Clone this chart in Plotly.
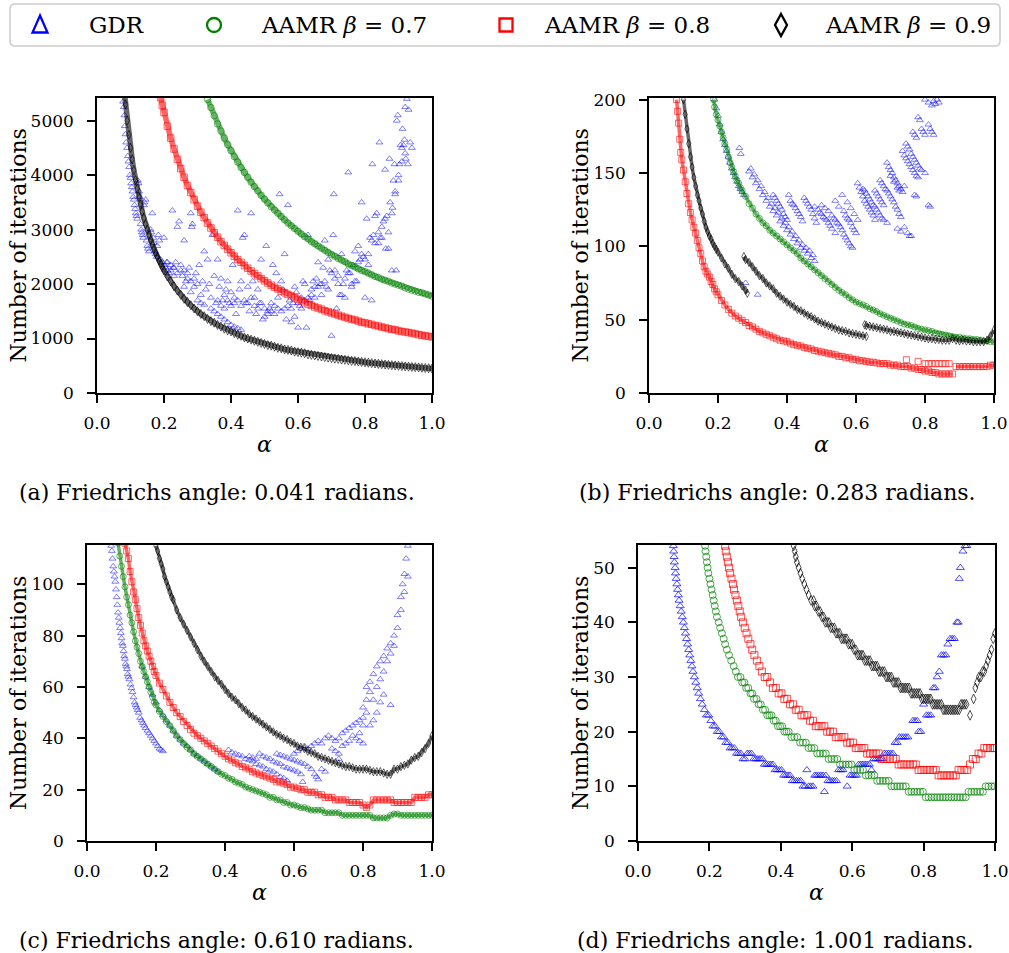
import plotly.graph_objects as go

W, H = 1009, 953
FONT = "DejaVu Serif"

# ---------------------------------------------------------------- alpha grid
GRID = [0.00, 0.01, 0.02, 0.03, 0.04, 0.05, 0.06, 0.07, 0.08, 0.09,
        0.10, 0.11, 0.12, 0.13, 0.14, 0.15, 0.16, 0.17, 0.18, 0.19,
        0.20, 0.21, 0.22, 0.23, 0.24, 0.25, 0.26, 0.27, 0.28, 0.29,
        0.30, 0.31, 0.32, 0.33, 0.34, 0.35, 0.36, 0.37, 0.38, 0.39,
        0.40, 0.41, 0.42, 0.43, 0.44, 0.45, 0.46, 0.47, 0.48, 0.49,
        0.50, 0.51, 0.52, 0.53, 0.54, 0.55, 0.56, 0.57, 0.58, 0.59,
        0.60, 0.61, 0.62, 0.63, 0.64, 0.65, 0.66, 0.67, 0.68, 0.69,
        0.70, 0.71, 0.72, 0.73, 0.74, 0.75, 0.76, 0.77, 0.78, 0.79,
        0.80, 0.81, 0.82, 0.83, 0.84, 0.85, 0.86, 0.87, 0.88, 0.89,
        0.90, 0.91, 0.92, 0.93, 0.94, 0.95, 0.96, 0.97, 0.98, 0.99, 1.00]

X_TICKS = [0.0, 0.2, 0.4, 0.6, 0.8, 1.0]
X_TICK_TEXT = ["0.0", "0.2", "0.4", "0.6", "0.8", "1.0"]

LEGEND_NAMES = ["GDR", "AAMR <i>β</i> = 0.7", "AAMR <i>β</i> = 0.8", "AAMR <i>β</i> = 0.9"]
CAPTIONS = ["(a) Friedrichs angle: 0.041 radians.",
            "(b) Friedrichs angle: 0.283 radians.",
            "(c) Friedrichs angle: 0.610 radians.",
            "(d) Friedrichs angle: 1.001 radians."]

# ================================================================ panel (a)
A_B09_ALPHA = [0.080, 0.085, 0.090, 0.095, 0.100, 0.105, 0.110, 0.115, 0.120, 0.125,
               0.130, 0.135, 0.140, 0.145, 0.150, 0.155, 0.160, 0.165, 0.170, 0.175,
               0.180, 0.185, 0.190, 0.195, 0.200] + GRID[21:]
A_B09_ITERS = [5600, 5300, 5000, 4740, 4500, 4290, 4090, 3910, 3750, 3600,
               3460, 3330, 3210, 3100, 3000, 2900, 2810, 2730, 2650, 2570,
               2500, 2430, 2370, 2310, 2250,
               2140, 2050, 1960, 1880, 1800, 1730, 1670, 1610, 1550, 1500,
               1450, 1410, 1360, 1320, 1290, 1250, 1220, 1180, 1150, 1130,
               1100, 1070, 1050, 1020, 1000, 980, 960, 940, 920, 900,
               880, 870, 850, 830, 820, 800, 790, 780, 760, 750,
               740, 730, 710, 700, 690, 680, 670, 660, 650, 640,
               630, 625, 615, 610, 600, 590, 585, 577, 570, 563,
               556, 549, 542, 536, 529, 523, 517, 511, 506, 500,
               495, 489, 484, 479, 474, 469, 464, 459, 455, 450]
A_B08_ALPHA = [0.190, 0.195, 0.200] + GRID[21:]
A_B08_ITERS = [5420, 5280, 5150,
               4900, 4680, 4480, 4290, 4120, 3960, 3810, 3680, 3550, 3430,
               3320, 3220, 3120, 3030, 2940, 2860, 2780, 2710, 2640, 2575,
               2510, 2450, 2400, 2340, 2290, 2240, 2190, 2150, 2100, 2060,
               2020, 1980, 1940, 1910, 1870, 1840, 1810, 1780, 1750, 1720,
               1690, 1660, 1630, 1610, 1580, 1560, 1540, 1510, 1490, 1470,
               1450, 1430, 1410, 1390, 1370, 1355, 1340, 1320, 1300, 1290,
               1270, 1260, 1240, 1230, 1210, 1200, 1180, 1170, 1160, 1140,
               1130, 1120, 1110, 1100, 1085, 1070, 1060, 1050, 1040, 1030]
A_B07_ALPHA = GRID[33:]
A_B07_ITERS = [5390, 5240, 5090, 4940, 4810, 4680, 4560, 4450,
               4340, 4240, 4140, 4050, 3960, 3870, 3790, 3710, 3630, 3560,
               3490, 3420, 3360, 3300, 3240, 3180, 3120, 3070, 3020, 2970,
               2920, 2870, 2830, 2780, 2740, 2700, 2660, 2620, 2580, 2540,
               2510, 2470, 2440, 2410, 2370, 2340, 2310, 2280, 2250, 2230,
               2200, 2170, 2140, 2120, 2090, 2070, 2050, 2020, 2000, 1980,
               1960, 1930, 1910, 1890, 1870, 1850, 1840, 1820, 1800, 1780]
A_GDR = [(0.078, 5350), (0.080, 5250), (0.082, 5100), (0.083, 4900), (0.085, 4750), (0.087, 4600),
         (0.090, 4500), (0.092, 4350), (0.094, 4250), (0.096, 4150), (0.098, 4000), (0.100, 3950),
         (0.102, 3850), (0.104, 3780), (0.106, 3700), (0.108, 3600), (0.110, 3550), (0.112, 3450),
         (0.114, 3380), (0.116, 3300), (0.118, 3250), (0.120, 3200), (0.122, 3900), (0.124, 3850),
         (0.126, 3700), (0.128, 3600), (0.130, 3100), (0.132, 3000), (0.134, 2950), (0.136, 2900),
         (0.138, 2850), (0.140, 3450), (0.142, 3500), (0.145, 3550), (0.148, 2800), (0.150, 2700),
         (0.152, 2650), (0.155, 2600), (0.160, 3000), (0.162, 2950), (0.165, 3300), (0.168, 2850),
         (0.170, 2750), (0.172, 2600), (0.175, 2550), (0.178, 2500), (0.180, 2700), (0.183, 2900),
         (0.186, 2800), (0.190, 2450), (0.195, 2400), (0.200, 2850), (0.202, 2350), (0.205, 2300),
         (0.208, 2400), (0.210, 2250), (0.215, 2200), (0.220, 2350), (0.225, 3350), (0.228, 2300),
         (0.230, 2150), (0.235, 2400), (0.240, 3050), (0.245, 3150), (0.250, 2250), (0.255, 2150),
         (0.260, 2800), (0.265, 2050), (0.270, 2100), (0.275, 2300), (0.280, 3300), (0.283, 3050),
         (0.285, 3100), (0.290, 1950), (0.295, 2200), (0.300, 2000), (0.305, 2350), (0.310, 1800),
         (0.315, 2050), (0.320, 2600), (0.325, 1900), (0.330, 2450), (0.335, 2000), (0.340, 1750),
         (0.345, 2900), (0.350, 2150), (0.355, 1650), (0.360, 2450), (0.365, 1950), (0.370, 2100),
         (0.375, 1700), (0.380, 1550), (0.385, 1900), (0.390, 2050), (0.395, 1650), (0.400, 1600),
         (0.405, 2350), (0.410, 1750), (0.415, 1450), (0.420, 3350), (0.425, 1900), (0.430, 2050),
         (0.435, 2850), (0.440, 2900), (0.445, 1650), (0.450, 1950), (0.455, 1500), (0.460, 3300),
         (0.465, 2050), (0.470, 1750), (0.475, 1450), (0.480, 1900), (0.485, 1650), (0.490, 2450),
         (0.495, 1350), (0.500, 1400), (0.505, 2700), (0.510, 1500), (0.515, 1550), (0.520, 1650),
         (0.525, 2350), (0.530, 1600), (0.535, 2200), (0.540, 1750), (0.545, 3650), (0.550, 2050),
         (0.555, 1900), (0.560, 2550), (0.565, 1350), (0.570, 3450), (0.575, 1700), (0.580, 1300),
         (0.585, 1650), (0.590, 1950), (0.595, 1850), (0.600, 1200), (0.605, 1600), (0.610, 1750),
         (0.615, 2050), (0.620, 2000), (0.625, 1200), (0.630, 2900), (0.635, 1700), (0.640, 1800),
         (0.645, 2050), (0.650, 1950), (0.655, 2100), (0.660, 2400), (0.665, 2000), (0.670, 1800),
         (0.675, 2300), (0.680, 2800), (0.685, 1950), (0.690, 2450), (0.695, 2250), (0.700, 1050),
         (0.705, 2900), (0.707, 3650), (0.710, 2250), (0.715, 1550), (0.720, 2150), (0.725, 1800),
         (0.730, 2550), (0.735, 2000), (0.740, 1750), (0.745, 2250), (0.750, 4050), (0.755, 2200),
         (0.760, 2000), (0.765, 2350), (0.770, 2600), (0.775, 2050), (0.780, 2700), (0.785, 2450),
         (0.790, 3500), (0.795, 2500), (0.800, 1750), (0.805, 3200), (0.810, 2550), (0.815, 2850),
         (0.820, 1700), (0.822, 4200), (0.825, 2900), (0.830, 3250), (0.835, 3300), (0.840, 2750),
         (0.843, 4600), (0.845, 2850), (0.850, 3050), (0.855, 3150), (0.860, 4100), (0.862, 2650),
         (0.865, 3250), (0.870, 2650), (0.873, 4300), (0.875, 3500), (0.880, 2250), (0.882, 3400),
         (0.885, 3900), (0.888, 4200), (0.890, 3700), (0.893, 2250), (0.895, 5000), (0.898, 5100),
         (0.900, 3900), (0.903, 4200), (0.906, 4550), (0.910, 4250), (0.912, 4850), (0.915, 4550),
         (0.918, 4650), (0.920, 5250), (0.922, 4300), (0.925, 5400), (0.928, 4200), (0.930, 5200),
         (0.935, 4600), (0.940, 4500),
         (0.36, 1700), (0.37, 1600), (0.38, 1800), (0.39, 1700), (0.40, 1850), (0.41, 1650),
         (0.42, 1700), (0.43, 1600), (0.44, 1700), (0.45, 1650), (0.46, 1750), (0.47, 1600),
         (0.48, 1550), (0.49, 1650), (0.50, 1550), (0.51, 1450), (0.52, 1500), (0.53, 1450),
         (0.54, 1550), (0.55, 1500), (0.56, 1550), (0.57, 1600), (0.58, 1550), (0.59, 1400),
         (0.60, 1650), (0.61, 1550), (0.62, 1700), (0.63, 1750), (0.64, 1900), (0.65, 1750),
         (0.66, 1950), (0.67, 2000), (0.68, 2050), (0.69, 1900), (0.70, 2200), (0.71, 2100),
         (0.72, 2000), (0.73, 1800), (0.74, 2100), (0.75, 2200), (0.76, 1950), (0.77, 2050),
         (0.78, 2400), (0.79, 2550), (0.80, 2450), (0.81, 2350), (0.82, 2800), (0.83, 2750),
         (0.84, 2950), (0.85, 2850), (0.86, 3200), (0.87, 2950), (0.88, 3300), (0.89, 3650),
         (0.90, 4000), (0.91, 4500), (0.92, 4400),
         (0.26, 1950), (0.28, 1850), (0.30, 1700), (0.31, 1650), (0.32, 1620), (0.34, 1550),
         (0.35, 1500), (0.36, 1450), (0.37, 1400), (0.38, 1350), (0.39, 1300), (0.40, 1250),
         (0.41, 1220), (0.42, 1190), (0.43, 1160),
         (0.21, 2400), (0.22, 2250), (0.23, 2300), (0.24, 2200), (0.25, 2350), (0.26, 2250),
         (0.27, 2200), (0.28, 2050), (0.29, 2100)]

# ================================================================ panel (b)
B_B08_ALPHA = [0.080, 0.083, 0.086, 0.089, 0.092, 0.095, 0.100, 0.105, 0.110, 0.115,
               0.120, 0.125, 0.130, 0.135, 0.140, 0.145, 0.150, 0.155, 0.160, 0.165,
               0.170, 0.175, 0.180, 0.185, 0.190, 0.195, 0.200] + GRID[21:89] + [0.885] + GRID[89:]
B_B08_ITERS = [200, 192, 184, 173, 164, 159, 152, 144, 136, 129,
               123, 118, 113, 109, 104, 99, 95, 90, 86, 83,
               81, 79, 76, 74, 71, 69, 67,
               63, 60, 57, 54.5, 52.5, 51, 49.5, 48, 46, 45,
               43.5, 42, 41, 40, 39, 38, 37, 36, 35.5, 35,
               34, 33, 32.5, 32, 31, 30.5, 30, 29, 28.5, 28,
               27.5, 27, 26.5, 26, 25, 25, 24, 24, 23, 23,
               22, 22, 21.5, 21, 21, 20.5, 20, 20, 20, 19,
               19, 19, 18, 18, 18, 17, 17, 16, 16, 15,
               15, 14, 14, 13, 13, 13, 13, 13,
               None,
               18, 18, 18, 18, 18, 18, 18, 18, 18, 18, 19, 19]
B_B08_EXTRA = [(0.80, 20), (0.81, 20), (0.82, 20), (0.83, 20), (0.84, 20), (0.85, 20),
               (0.86, 20), (0.87, 20), (0.746, 22.7), (0.78, 21.6)]
B_B09_ALPHA = ([0.100, 0.105, 0.110, 0.115, 0.120, 0.125, 0.130, 0.135, 0.140, 0.145,
                0.150, 0.155, 0.160, 0.165, 0.170, 0.175, 0.180, 0.185, 0.190, 0.195, 0.200]
               + GRID[21:29] + [0.285, 0.2875, 0.275, 0.28] + GRID[29:64] + [0.63, 0.625] + GRID[63:])
B_B09_ITERS = [200, 190, 180, 170, 161, 154, 147, 141, 135, 131,
               126, 122, 117, 113, 110, 107, 105, 102, 100, 98, 96,
               92, 88, 85, 81, 78, 76, 73, 70, 68,
               None,
               93, 91,
               89, 86, 83, 80, 78, 75, 73, 71, 68, 66,
               64, 62, 60.5, 59, 57, 56, 54.5, 53, 52, 50.5,
               49, 48, 47, 46, 45, 44, 43, 42.5, 42, 41,
               40.5, 40, 39.5, 39, 38.5,
               None,
               46.5,
               46, 45.5, 45, 44.5, 44, 43.5, 43,
               42, 42, 41.5, 41, 40.5, 40, 39.5, 39, 38.5, 38,
               37.5, 37, 37, 36.5, 36.5, 36, 36, 36, 37, 36,
               35.5, 36, 35.5, 35.5, 35, 35, 35, 35, 36, 39, 43]
B_B07_ALPHA = [0.187, 0.190, 0.195, 0.200, 0.205, 0.210, 0.215, 0.220, 0.225, 0.230,
               0.235, 0.240, 0.245, 0.250, 0.255, 0.260, 0.265, 0.270] + GRID[28:]
B_B07_ITERS = [200, 195, 190, 186, 182, 178, 174, 170, 166, 161,
               157, 154, 151, 148, 145, 143, 140, 138,
               134, 129, 126,
               122, 119, 116, 114, 111, 109, 107, 105, 103, 101,
               99, 97, 95, 92, 90, 88, 86, 84, 82, 80,
               78, 76, 74, 72, 70, 68.5, 67, 65, 63.5, 62,
               61, 60, 59, 57.5, 56.5, 55.5, 54, 53, 52, 51,
               50, 49, 48, 47, 46.5, 46, 45, 44, 43.5, 43,
               42.5, 42, 41, 40.5, 40, 39.5, 39, 38.5, 38, 38,
               37.5, 37, 37, 36.5, 36.5, 36, 35.5, 35.5, 35, 35]
B_GDR = [(0.19, 200), (0.195, 194), (0.20, 189), (0.205, 183), (0.21, 178), (0.215, 173),
         (0.22, 169), (0.225, 165), (0.23, 161), (0.235, 157), (0.24, 153), (0.245, 150),
         (0.25, 147), (0.255, 144), (0.26, 141), (0.265, 139), (0.27, 137), (0.275, 135),
         (0.262, 167), (0.266, 163), (0.28, 75), (0.315, 67),
         (0.29, 151), (0.30, 147), (0.31, 143), (0.32, 139), (0.33, 135), (0.34, 131),
         (0.35, 127), (0.36, 124), (0.37, 121), (0.38, 117), (0.39, 114), (0.40, 111),
         (0.41, 108), (0.42, 105), (0.43, 102), (0.44, 99), (0.45, 97), (0.46, 95),
         (0.47, 92), (0.48, 90),
         (0.295, 153), (0.305, 149), (0.315, 145), (0.325, 141), (0.335, 137), (0.345, 133),
         (0.355, 129), (0.365, 126), (0.375, 123), (0.385, 119), (0.395, 116), (0.405, 113),
         (0.415, 110), (0.425, 107), (0.435, 104), (0.445, 101), (0.455, 99), (0.465, 97),
         (0.475, 94),
         (0.36, 135), (0.37, 131), (0.38, 127), (0.39, 122), (0.40, 118), (0.365, 133),
         (0.375, 129), (0.385, 125), (0.395, 120),
         (0.405, 135), (0.41, 131), (0.42, 128), (0.43, 124), (0.44, 120), (0.445, 117),
         (0.415, 129), (0.425, 126), (0.435, 122),
         (0.45, 133), (0.46, 129), (0.47, 125), (0.48, 119), (0.485, 116), (0.455, 131),
         (0.465, 127), (0.475, 122),
         (0.48, 127), (0.49, 125), (0.50, 122), (0.51, 119), (0.52, 116), (0.53, 112),
         (0.54, 109), (0.495, 123), (0.505, 120), (0.515, 118), (0.525, 114),
         (0.50, 128), (0.51, 126), (0.52, 124), (0.53, 121), (0.54, 118), (0.55, 115),
         (0.56, 111), (0.57, 106), (0.58, 102), (0.59, 99), (0.535, 119), (0.545, 116),
         (0.555, 113), (0.565, 108), (0.575, 104), (0.585, 100),
         (0.54, 131), (0.55, 127), (0.56, 135), (0.565, 124), (0.57, 121), (0.58, 118),
         (0.59, 113), (0.60, 109), (0.575, 119), (0.585, 116), (0.595, 111),
         (0.575, 130), (0.585, 126), (0.595, 122), (0.605, 118),
         (0.605, 143), (0.61, 140), (0.62, 134), (0.63, 129), (0.64, 125), (0.65, 121),
         (0.655, 118), (0.615, 137), (0.625, 131), (0.635, 127), (0.645, 123),
         (0.62, 139), (0.63, 136), (0.64, 132), (0.65, 128), (0.66, 125), (0.67, 121),
         (0.68, 118), (0.69, 116), (0.625, 138), (0.635, 134), (0.645, 130), (0.655, 127),
         (0.665, 123), (0.675, 119),
         (0.655, 138), (0.66, 136), (0.67, 132), (0.68, 128), (0.665, 134), (0.675, 130),
         (0.67, 145), (0.68, 141), (0.69, 138), (0.70, 134), (0.71, 130), (0.72, 125),
         (0.73, 120), (0.74, 113), (0.75, 109), (0.755, 107), (0.675, 143), (0.685, 139),
         (0.695, 136), (0.705, 132), (0.715, 127), (0.725, 122),
         (0.69, 157), (0.70, 152), (0.71, 147), (0.72, 143), (0.73, 139), (0.735, 137),
         (0.695, 154), (0.705, 150), (0.715, 145), (0.725, 141),
         (0.70, 148), (0.71, 144), (0.72, 140), (0.725, 138),
         (0.735, 165), (0.74, 162), (0.75, 158), (0.76, 154), (0.77, 150), (0.78, 147),
         (0.745, 160), (0.755, 156), (0.765, 152), (0.775, 148),
         (0.745, 170), (0.75, 168), (0.76, 163), (0.77, 159), (0.78, 155), (0.79, 152),
         (0.80, 150), (0.755, 166), (0.765, 161), (0.775, 157), (0.785, 153),
         (0.765, 178), (0.77, 176), (0.78, 188), (0.785, 186), (0.79, 180), (0.80, 176),
         (0.81, 183), (0.815, 180), (0.82, 178), (0.825, 176), (0.775, 174), (0.795, 178),
         (0.80, 200), (0.81, 198), (0.82, 196), (0.825, 199), (0.83, 197), (0.835, 200),
         (0.84, 198),
         (0.77, 135), (0.775, 134), (0.81, 128), (0.815, 127), (0.74, 141), (0.72, 112),
         (0.73, 110), (0.76, 107)]

# ================================================================ panel (c)
C_B09_ALPHA = [0.200, 0.205, 0.210, 0.215, 0.220, 0.225, 0.230, 0.235, 0.240, 0.245, 0.250] + GRID[26:]
C_B09_ITERS = [115, 113, 110, 108, 106, 103, 101, 99, 97, 95, 94,
               90, 87, 84.5, 82, 79.5,
               77, 74.5, 72, 70, 68, 66, 64, 62.5, 61, 59,
               57.5, 56, 55, 53.5, 52, 51, 49.5, 48.5, 47.5, 46.5,
               45.5, 44.5, 43.5, 42.5, 41.5, 41, 40, 39.5, 38.5, 38,
               37, 36.5, 36, 35, 34.5, 34, 33, 32.5, 32, 31.5,
               31, 30.5, 30, 29.5, 29, 29, 28.5, 28, 28, 28,
               28, 27.5, 27, 27, 27, 26.5, 26, 26, 28, 28,
               29, 29.5, 30, 31.5, 32.5, 33, 34.5, 36, 38, 41]
C_B08_ALPHA = [0.110, 0.115, 0.120, 0.125, 0.130, 0.135, 0.140, 0.145, 0.150, 0.155,
               0.160, 0.165, 0.170, 0.175, 0.180, 0.185, 0.190, 0.195, 0.200] + GRID[21:]
C_B08_ITERS = [116, 113, 110, 105, 101, 97, 94, 90.5, 87, 84,
               81, 78, 76, 74, 72, 70, 68, 66, 64.5,
               61.5, 59, 56.5, 54, 52, 50, 48.5, 46.5, 45, 43.5,
               42, 41, 40, 39, 38, 37, 36, 35, 34, 33,
               32, 31.5, 30.5, 30, 29, 28.5, 28, 27, 26.5, 26,
               25.5, 25, 24.5, 24, 23, 23, 22.5, 22, 21, 21,
               20.5, 20, 20, 19, 19, 19, 18, 18, 17, 17,
               17, 16, 16, 16, 16, 15, 15, 15, 15, 14,
               13, 14, 16, 16, 16, 16, 16, 16, 15, 15,
               15, 15, 15, 15, 17, 17, 17, 17, 18, 18]
C_B07_ALPHA = [0.090, 0.095, 0.100, 0.105, 0.110, 0.115, 0.120, 0.125, 0.130, 0.135,
               0.140, 0.145, 0.150, 0.155, 0.160, 0.165, 0.170, 0.175, 0.180, 0.185,
               0.190, 0.195, 0.200] + GRID[21:]
C_B07_ITERS = [116, 111, 107, 103, 99, 95, 92, 88, 85, 81.5,
               78, 75.5, 73, 70, 68, 66, 64, 62, 60, 58,
               56, 54, 53,
               50.5, 48.5, 46.5, 45, 43, 41, 39.5, 38, 36.5, 35.5,
               34, 33, 32, 31, 30, 29, 28, 27, 26, 25.5,
               24.5, 24, 23, 22.5, 22, 21, 20.5, 20, 19.5, 19,
               18.5, 18, 17, 17, 16, 16, 15, 15, 14, 14,
               13.5, 13, 13, 12.5, 12, 12, 12, 12, 11, 11,
               11, 11, 11, 10, 10, 10, 10, 10, 10, 10,
               10, 10, 9, 9, 9, 9, 9, 10, 10.5, 10.5,
               10, 10, 10, 10, 10, 10, 10, 10, 10, 10]
C_GDR = [(0.070, 115), (0.072, 113), (0.074, 110), (0.076, 107), (0.078, 105), (0.080, 103),
         (0.082, 101), (0.084, 98), (0.086, 95), (0.088, 92), (0.090, 89), (0.092, 87),
         (0.094, 85), (0.096, 83), (0.098, 81), (0.100, 79), (0.102, 77), (0.104, 76),
         (0.106, 74), (0.108, 72), (0.110, 71), (0.112, 69), (0.114, 68), (0.116, 67),
         (0.118, 65), (0.120, 64), (0.123, 63), (0.126, 61), (0.129, 59.5), (0.132, 58),
         (0.135, 56), (0.138, 54), (0.141, 53), (0.144, 52), (0.147, 51), (0.150, 50),
         (0.154, 48), (0.158, 47), (0.162, 46), (0.166, 45), (0.170, 44), (0.175, 43),
         (0.180, 42), (0.185, 41), (0.190, 40), (0.195, 39), (0.200, 38), (0.205, 37),
         (0.210, 36), (0.215, 35.5), (0.220, 35),
         (0.16, 68), (0.17, 64), (0.18, 60), (0.19, 57), (0.20, 54), (0.21, 51), (0.22, 49),
         (0.23, 47), (0.24, 45), (0.25, 43), (0.26, 41), (0.27, 39.5), (0.28, 38), (0.29, 37),
         (0.30, 35.5), (0.31, 34), (0.32, 33), (0.33, 32), (0.34, 31), (0.35, 30), (0.36, 29),
         (0.37, 28), (0.38, 27),
         (0.41, 35.5), (0.42, 34.5), (0.43, 34), (0.44, 33.5), (0.45, 33), (0.46, 32),
         (0.47, 31.5), (0.48, 31), (0.49, 30), (0.50, 29.5), (0.51, 29), (0.52, 28),
         (0.53, 27.5), (0.54, 27), (0.55, 26), (0.56, 25), (0.57, 24.5), (0.58, 23.5),
         (0.47, 33), (0.48, 32.5), (0.49, 32), (0.50, 34), (0.51, 33), (0.52, 32.5),
         (0.53, 32), (0.54, 31), (0.55, 30.5), (0.56, 30), (0.57, 29), (0.58, 28.5),
         (0.59, 28), (0.60, 27.5), (0.61, 27), (0.62, 26), (0.625, 23),
         (0.55, 34), (0.56, 33.5), (0.57, 33), (0.58, 32.5), (0.59, 32), (0.60, 31.5),
         (0.61, 31), (0.62, 30.5), (0.63, 30), (0.64, 29), (0.65, 28), (0.66, 26),
         (0.665, 25), (0.67, 24), (0.68, 28), (0.69, 27),
         (0.60, 34), (0.61, 35), (0.62, 36), (0.63, 37), (0.64, 36), (0.65, 37), (0.66, 38),
         (0.67, 39), (0.68, 38), (0.69, 40), (0.70, 41), (0.71, 40), (0.72, 39), (0.73, 40),
         (0.74, 42), (0.75, 43), (0.76, 44), (0.77, 45), (0.78, 46), (0.79, 47), (0.80, 48),
         (0.71, 36), (0.72, 35), (0.73, 34), (0.74, 37), (0.75, 38), (0.76, 39), (0.77, 41),
         (0.78, 40), (0.79, 39), (0.80, 38), (0.73, 32),
         (0.80, 52), (0.81, 55), (0.81, 60), (0.82, 58), (0.82, 62), (0.83, 55), (0.83, 65),
         (0.84, 60), (0.84, 68), (0.85, 63), (0.85, 70), (0.86, 66), (0.86, 72), (0.87, 75),
         (0.87, 70), (0.88, 73), (0.88, 77), (0.88, 53), (0.89, 80), (0.89, 76), (0.90, 83),
         (0.90, 88), (0.91, 90), (0.91, 95), (0.915, 100), (0.92, 104), (0.92, 97),
         (0.925, 110), (0.93, 103), (0.93, 115), (0.84, 50), (0.83, 47), (0.82, 45),
         (0.81, 50), (0.80, 45), (0.79, 42), (0.86, 57), (0.85, 54)]

# ================================================================ panel (d)
D_GDR = [(0.099, 54), (0.100, 53), (0.101, 52), (0.102, 51), (0.104, 50), (0.105, 49),
         (0.107, 48), (0.109, 47), (0.111, 46), (0.113, 45), (0.115, 44), (0.118, 43),
         (0.121, 42), (0.124, 41), (0.127, 40), (0.130, 39), (0.133, 38), (0.136, 37),
         (0.139, 36), (0.142, 35), (0.145, 34), (0.148, 33), (0.151, 32), (0.154, 31),
         (0.158, 30), (0.162, 29), (0.166, 28), (0.170, 27), (0.175, 26), (0.180, 25),
         (0.186, 24), (0.192, 23), (0.198, 23), (0.204, 22), (0.210, 21), (0.216, 21),
         (0.222, 20), (0.228, 20), (0.234, 19), (0.240, 19), (0.246, 18), (0.252, 18),
         (0.258, 17), (0.264, 17), (0.270, 17), (0.276, 16), (0.282, 16), (0.288, 16),
         (0.294, 15), (0.300, 15), (0.306, 16), (0.312, 16), (0.318, 16), (0.324, 15),
         (0.330, 15), (0.336, 15), (0.342, 15), (0.348, 15), (0.354, 14), (0.360, 14),
         (0.366, 14), (0.372, 14), (0.378, 14), (0.384, 13), (0.390, 13), (0.396, 13),
         (0.402, 13), (0.408, 12), (0.414, 12), (0.420, 12), (0.426, 12), (0.432, 11),
         (0.438, 11), (0.444, 11), (0.450, 11), (0.456, 11), (0.462, 10), (0.468, 10),
         (0.473, 13), (0.478, 10), (0.484, 10), (0.490, 10), (0.495, 12), (0.500, 12),
         (0.506, 12), (0.512, 12), (0.518, 12), (0.522, 9), (0.526, 12), (0.532, 11),
         (0.538, 11), (0.544, 11), (0.550, 11), (0.556, 11), (0.562, 13), (0.568, 13),
         (0.574, 13), (0.586, 10), (0.594, 12), (0.600, 12), (0.606, 12), (0.612, 12),
         (0.618, 14), (0.624, 14), (0.630, 14), (0.636, 14), (0.642, 14), (0.648, 14),
         (0.654, 13), (0.660, 15), (0.666, 15), (0.672, 15), (0.678, 15), (0.684, 15),
         (0.690, 16), (0.696, 16), (0.702, 16), (0.708, 16), (0.714, 16), (0.720, 18),
         (0.726, 18), (0.732, 19), (0.738, 19), (0.744, 19), (0.750, 19), (0.756, 19),
         (0.770, 22), (0.776, 22), (0.782, 22), (0.786, 20), (0.792, 20), (0.800, 25),
         (0.808, 23), (0.814, 23), (0.820, 23), (0.827, 28), (0.832, 28), (0.838, 30),
         (0.844, 31), (0.850, 34), (0.856, 34), (0.862, 34), (0.868, 36), (0.874, 37),
         (0.880, 37), (0.886, 37), (0.893, 40), (0.897, 40), (0.900, 48), (0.903, 50),
         (0.910, 53), (0.916, 54), (0.921, 54)]
D_B07 = [(0.188, 54), (0.189, 53), (0.191, 52), (0.193, 51), (0.195, 50), (0.197, 49),
         (0.200, 48), (0.203, 47), (0.206, 46), (0.209, 45), (0.212, 44), (0.215, 43),
         (0.218, 42), (0.221, 41), (0.226, 40), (0.230, 39), (0.235, 38), (0.240, 37),
         (0.244, 36), (0.249, 35), (0.255, 34), (0.261, 33), (0.268, 32), (0.274, 31),
         (0.280, 30), (0.287, 30), (0.292, 29), (0.298, 29), (0.303, 28), (0.309, 28),
         (0.315, 27), (0.320, 27), (0.325, 26), (0.332, 26), (0.338, 25), (0.344, 25),
         (0.350, 24), (0.356, 24), (0.362, 23), (0.368, 23), (0.374, 23), (0.380, 22),
         (0.386, 22), (0.392, 21), (0.398, 21), (0.404, 21), (0.410, 20), (0.416, 20),
         (0.422, 20), (0.430, 19), (0.438, 19), (0.446, 19), (0.454, 18), (0.462, 18),
         (0.470, 18), (0.478, 17), (0.486, 17), (0.494, 17), (0.502, 16), (0.510, 16),
         (0.518, 16), (0.526, 16), (0.534, 15), (0.542, 15), (0.550, 15), (0.558, 15),
         (0.566, 14), (0.574, 14), (0.582, 14), (0.590, 14), (0.598, 14), (0.606, 13),
         (0.614, 13), (0.622, 13), (0.630, 13), (0.638, 12), (0.646, 12), (0.654, 12),
         (0.662, 12), (0.670, 11), (0.678, 11), (0.686, 11), (0.694, 11), (0.702, 11),
         (0.710, 10), (0.718, 10), (0.726, 10), (0.734, 10), (0.742, 10), (0.750, 10),
         (0.758, 9), (0.766, 9), (0.774, 9), (0.782, 9), (0.790, 9), (0.798, 9),
         (0.806, 8), (0.814, 8), (0.822, 8), (0.830, 8), (0.838, 8), (0.846, 8),
         (0.854, 8), (0.862, 8), (0.870, 8), (0.878, 8), (0.886, 8), (0.894, 8),
         (0.902, 8), (0.910, 8), (0.918, 8), (0.926, 9), (0.934, 9), (0.942, 9),
         (0.950, 9), (0.958, 9), (0.966, 9), (0.974, 10), (0.982, 10), (0.990, 10),
         (0.998, 10)]
D_B08 = [(0.244, 54), (0.246, 53), (0.249, 52), (0.252, 51), (0.255, 50), (0.258, 49),
         (0.262, 48), (0.266, 47), (0.269, 46), (0.273, 45), (0.277, 44), (0.281, 43),
         (0.285, 42), (0.289, 41), (0.294, 40), (0.299, 39), (0.304, 38), (0.309, 37),
         (0.315, 36), (0.320, 35), (0.326, 34), (0.333, 33), (0.340, 32), (0.347, 31),
         (0.355, 30), (0.362, 30), (0.370, 29), (0.378, 28), (0.386, 28), (0.394, 27),
         (0.402, 27), (0.410, 26), (0.418, 26), (0.426, 25), (0.434, 25), (0.442, 24),
         (0.450, 24), (0.458, 23), (0.466, 23), (0.474, 23), (0.482, 22), (0.490, 22),
         (0.498, 21), (0.506, 21), (0.514, 21), (0.522, 21), (0.530, 20), (0.538, 20),
         (0.546, 20), (0.554, 19), (0.562, 19), (0.570, 19), (0.578, 19), (0.586, 18),
         (0.594, 18), (0.602, 18), (0.610, 17), (0.618, 17), (0.626, 17), (0.634, 17),
         (0.642, 16), (0.650, 16), (0.658, 16), (0.666, 16), (0.674, 16), (0.682, 15),
         (0.690, 15), (0.698, 15), (0.706, 15), (0.714, 15), (0.722, 15), (0.730, 14),
         (0.738, 14), (0.746, 14), (0.754, 14), (0.762, 14), (0.770, 14), (0.778, 14),
         (0.786, 13), (0.794, 13), (0.802, 13), (0.810, 13), (0.818, 13), (0.826, 13),
         (0.834, 13), (0.842, 12), (0.850, 12), (0.858, 12), (0.866, 12), (0.874, 12),
         (0.882, 12), (0.890, 12), (0.898, 13), (0.906, 13), (0.914, 13), (0.922, 13),
         (0.930, 14), (0.938, 15), (0.946, 15), (0.954, 16), (0.962, 16), (0.970, 17),
         (0.978, 17), (0.986, 17), (0.994, 17), (1.000, 17)]
D_B09 = [(0.436, 54), (0.439, 53), (0.442, 52), (0.445, 51), (0.450, 50), (0.455, 49),
         (0.460, 48), (0.466, 47), (0.472, 46), (0.478, 45), (0.485, 44), (0.492, 44),
         (0.495, 43), (0.500, 43), (0.505, 42), (0.510, 42), (0.515, 41), (0.520, 41),
         (0.525, 40), (0.530, 40), (0.535, 40), (0.540, 39), (0.545, 39), (0.550, 39),
         (0.555, 38), (0.560, 38), (0.565, 38), (0.570, 37), (0.575, 37), (0.580, 37),
         (0.585, 37), (0.590, 36), (0.595, 36), (0.600, 36), (0.605, 35), (0.610, 35),
         (0.615, 34), (0.620, 34), (0.625, 34), (0.630, 34), (0.635, 33), (0.640, 33),
         (0.645, 33), (0.650, 33), (0.655, 32), (0.660, 32), (0.665, 32), (0.670, 32),
         (0.675, 31), (0.680, 31), (0.685, 31), (0.690, 31), (0.695, 30), (0.700, 30),
         (0.705, 30), (0.710, 30), (0.715, 29), (0.720, 29), (0.725, 29), (0.730, 29),
         (0.735, 28), (0.740, 28), (0.745, 28), (0.750, 28), (0.755, 28), (0.760, 28),
         (0.765, 27), (0.770, 27), (0.775, 27), (0.780, 27), (0.785, 27), (0.790, 27),
         (0.795, 26), (0.800, 26), (0.805, 26), (0.810, 26), (0.815, 26), (0.820, 26),
         (0.825, 25), (0.830, 25), (0.835, 25), (0.840, 25), (0.845, 25), (0.850, 25),
         (0.855, 24), (0.860, 24), (0.865, 24), (0.870, 24), (0.875, 24), (0.880, 24),
         (0.885, 24), (0.890, 24), (0.895, 24), (0.900, 24), (0.905, 25), (0.910, 25),
         (0.915, 25), (0.920, 25), (0.930, 23), (0.940, 26), (0.945, 28), (0.950, 29),
         (0.955, 30), (0.960, 30), (0.965, 31), (0.970, 31), (0.975, 32), (0.980, 33),
         (0.985, 34), (0.990, 35), (0.995, 37), (1.000, 38)]

# ---------------------------------------------------------------- layout helpers
PANELS = {  # pixel boxes of plot areas: left, right, top, bottom ; y range ; y tick step
    "a": dict(l=97, r=432, t=98, b=393, ymax=5416, dtick=1000, ax=""),
    "b": dict(l=649, r=994, t=98, b=393, ymax=201.1, dtick=50, ax="2"),
    "c": dict(l=87, r=432, t=545, b=841, ymax=115.3, dtick=20, ax="3"),
    "d": dict(l=638, r=995, t=545, b=841, ymax=54.15, dtick=10, ax="4"),
}
YLABEL_X = {"a": 18, "b": 580, "c": 18, "d": 580}
CAPTION_X = {"a": 17, "b": 577, "c": 17, "d": 575}


def fx(p):
    return p / W


def fy(p):
    return 1 - p / H


STYLE = {
    "gdr": dict(symbol="triangle-up-open", color="#0000ff", rgba="rgba(0,0,255,0.45)"),
    "b07": dict(symbol="circle-open", color="#008000", rgba="rgba(0,128,0,0.6)"),
    "b08": dict(symbol="square-open", color="#ff0000", rgba="rgba(255,0,0,0.6)"),
    "b09": dict(symbol="diamond-tall-open", color="#000000", rgba="rgba(0,0,0,0.6)"),
}

fig = go.Figure()


def add(panel, kind, xs, ys, line=False, size=6, lw=3.5, op=0.6):
    st = STYLE[kind]
    ax = PANELS[panel]["ax"]
    fig.add_trace(go.Scatter(
        x=list(xs), y=list(ys),
        mode="lines+markers" if line else "markers",
        line=dict(color=st["rgba"], width=lw),
        marker=dict(symbol=st["symbol"], color=st["color"], size=size,
                    opacity=op, line=dict(width=1, color=st["color"])),
        xaxis="x" + ax, yaxis="y" + ax, showlegend=False, hoverinfo="skip",
    ))


def add_pairs(panel, kind, pairs, size=6, op=0.6):
    xs = [p[0] for p in pairs]
    ys = [p[1] for p in pairs]
    add(panel, kind, xs, ys, line=False, size=size, op=op)


# panel (a)
add_pairs("a", "gdr", A_GDR, op=0.5)
add("a", "b07", A_B07_ALPHA, A_B07_ITERS, line=True, lw=5.5, size=6.5)
add("a", "b08", A_B08_ALPHA, A_B08_ITERS, line=True, lw=5.5, size=6.5)
add("a", "b09", A_B09_ALPHA, A_B09_ITERS, line=True, lw=5.5, size=6.5)
# panel (b)
add_pairs("b", "gdr", B_GDR, op=0.5)
add("b", "b07", B_B07_ALPHA, B_B07_ITERS, line=True)
add("b", "b08", B_B08_ALPHA, B_B08_ITERS, line=True)
add_pairs("b", "b08", B_B08_EXTRA)
add("b", "b09", B_B09_ALPHA, B_B09_ITERS, line=True)
# panel (c)
add_pairs("c", "gdr", C_GDR, op=0.5)
add("c", "b07", C_B07_ALPHA, C_B07_ITERS, line=True)
add("c", "b08", C_B08_ALPHA, C_B08_ITERS, line=True)
add("c", "b09", C_B09_ALPHA, C_B09_ITERS, line=True)
# panel (d)
add_pairs("d", "gdr", D_GDR, size=7, op=0.7)
add_pairs("d", "b07", D_B07, size=7, op=0.7)
add_pairs("d", "b08", D_B08, size=7, op=0.7)
add_pairs("d", "b09", D_B09, size=7, op=0.7)

layout = dict(
    width=W, height=H, margin=dict(l=0, r=0, t=0, b=0, pad=0),
    paper_bgcolor="white", plot_bgcolor="white", showlegend=False,
    font=dict(family=FONT, color="black"),
)
for key, p in PANELS.items():
    ax = p["ax"]
    common = dict(showline=True, linecolor="black", linewidth=1.5, mirror=True,
                  ticks="outside", ticklen=8, tickwidth=1.5, tickcolor="black",
                  showgrid=False, zeroline=False, automargin=False,
                  tickfont=dict(family=FONT, size=17, color="black"))
    layout["xaxis" + ax] = dict(domain=[fx(p["l"]), fx(p["r"])], range=[0, 1],
                                tickvals=X_TICKS, ticktext=X_TICK_TEXT,
                                anchor="y" + ax, ticklabelstandoff=6, **common)
    layout["yaxis" + ax] = dict(domain=[fy(p["b"]), fy(p["t"])], range=[0, p["ymax"]],
                                tick0=0, dtick=p["dtick"], anchor="x" + ax,
                                ticklabelstandoff=10, **common)
fig.update_layout(**layout)

# ---------------------------------------------------------------- text
ann = []
for i, (key, p) in enumerate(PANELS.items()):
    cx = (p["l"] + p["r"]) / 2
    cy = (p["t"] + p["b"]) / 2
    ann.append(dict(text="Number of iterations", textangle=-90,
                    x=fx(YLABEL_X[key]), y=fy(cy), xref="paper", yref="paper",
                    xanchor="center", yanchor="middle", showarrow=False,
                    font=dict(family=FONT, size=22)))
    ann.append(dict(text="<i>α</i>", x=fx(cx), y=fy(p["b"] + 51), xref="paper", yref="paper",
                    xanchor="center", yanchor="middle", showarrow=False,
                    font=dict(family=FONT, size=22)))
    ann.append(dict(text=CAPTIONS[i], x=fx(CAPTION_X[key]), y=fy(p["b"] + 99),
                    xref="paper", yref="paper",
                    xanchor="left", yanchor="middle", showarrow=False,
                    font=dict(family=FONT, size=22)))

# legend texts
LEG_TEXT_X = [87, 259, 542, 823]
for name, lx in zip(LEGEND_NAMES, LEG_TEXT_X):
    ann.append(dict(text=name, x=fx(lx), y=fy(25), xref="paper", yref="paper",
                    xanchor="left", yanchor="middle", showarrow=False,
                    font=dict(family=FONT, size=23)))
fig.update_layout(annotations=ann)

# legend frame and glyphs (layout shapes)
r = 5
x0, x1, y0, y1 = 10, 1000, 4, 46
frame = (f"M {fx(x0 + r)},{fy(y0)} L {fx(x1 - r)},{fy(y0)} Q {fx(x1)},{fy(y0)} {fx(x1)},{fy(y0 + r)} "
         f"L {fx(x1)},{fy(y1 - r)} Q {fx(x1)},{fy(y1)} {fx(x1 - r)},{fy(y1)} "
         f"L {fx(x0 + r)},{fy(y1)} Q {fx(x0)},{fy(y1)} {fx(x0)},{fy(y1 - r)} "
         f"L {fx(x0)},{fy(y0 + r)} Q {fx(x0)},{fy(y0)} {fx(x0 + r)},{fy(y0)} Z")
shapes = [dict(type="path", path=frame, xref="paper", yref="paper",
               line=dict(color="#cccccc", width=1.5), fillcolor="rgba(255,255,255,0.8)")]
tri = f"M {fx(40)},{fy(15.5)} L {fx(47.5)},{fy(32.5)} L {fx(32.5)},{fy(32.5)} Z"
shapes.append(dict(type="path", path=tri, xref="paper", yref="paper",
                   line=dict(color="#0000ff", width=2.3)))
shapes.append(dict(type="circle", x0=fx(207), x1=fx(221), y0=fy(32), y1=fy(18),
                   xref="paper", yref="paper", line=dict(color="#008000", width=2.3)))
shapes.append(dict(type="rect", x0=fx(499.5), x1=fx(512.5), y0=fy(31.5), y1=fy(18.5),
                   xref="paper", yref="paper", line=dict(color="#ff0000", width=2.3)))
dia = f"M {fx(781)},{fy(14)} L {fx(787)},{fy(25)} L {fx(781)},{fy(36)} L {fx(775)},{fy(25)} Z"
shapes.append(dict(type="path", path=dia, xref="paper", yref="paper",
                   line=dict(color="#000000", width=2.3)))
fig.update_layout(shapes=shapes)

fig.write_html("out.html",
               post_script="document.body.style.margin='0';document.body.style.overflow='hidden';")
